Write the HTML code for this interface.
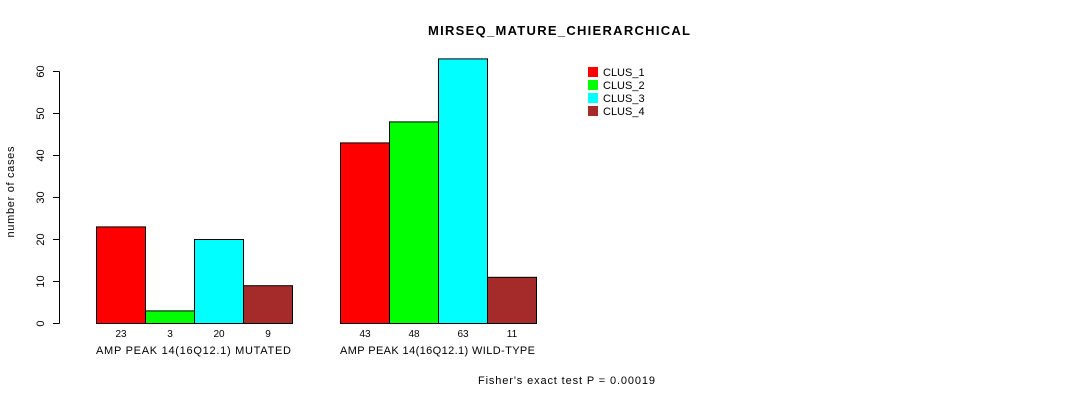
<!DOCTYPE html>
<html><head><meta charset="utf-8"><style>body{margin:0;background:#fff}svg{display:block;font-family:"Liberation Sans",sans-serif}</style></head>
<body>
<svg width="1090" height="400" id="c">
<text x="559" y="35" font-size="13" font-weight="bold" text-anchor="middle" textLength="262" lengthAdjust="spacing">MIRSEQ_MATURE_CHIERARCHICAL</text>
<text transform="translate(14,192) rotate(-90)" font-size="11" text-anchor="middle" textLength="91" lengthAdjust="spacing">number of cases</text>
<text x="566.5" y="384" font-size="11" text-anchor="middle" textLength="177" lengthAdjust="spacing">Fisher's exact test P = 0.00019</text>
<g id="axis"></g>
<g id="bars"></g>
<g id="legend"></g>
</svg>
<script>
const groups=["AMP PEAK 14(16Q12.1) MUTATED","AMP PEAK 14(16Q12.1) WILD-TYPE"];
const clusters=["CLUS_1","CLUS_2","CLUS_3","CLUS_4"];
const colors=["#ff0000","#00ff00","#00ffff","#a52a2a"];
const mutated=[23,3,20,9];
const wildtype=[43,48,63,11];
const yTicks=[0,10,20,30,40,50,60];
const NS="http://www.w3.org/2000/svg";
function y(v){return 323.5-v*(252/60);}
function mk(t,a,p){const e=document.createElementNS(NS,t);for(const k in a)e.setAttribute(k,a[k]);p.appendChild(e);return e;}
const ax=document.getElementById('axis');
mk('line',{x1:59.5,x2:59.5,y1:y(0),y2:y(60),stroke:'#000'},ax);
yTicks.forEach(t=>{const l=mk('line',{x1:53,x2:59.5,y1:y(t),y2:y(t),stroke:'#000'},ax);

const tx=mk('text',{transform:`translate(44,${y(t)}) rotate(-90)`,'font-size':11,'text-anchor':'middle'},ax);tx.textContent=t;
});
const bg=document.getElementById('bars');
const starts=[96.5,340.5],bw=49;
[mutated,wildtype].forEach((vals,g)=>{
vals.forEach((v,i)=>{const x=starts[g]+i*bw;
const r=mk('rect',{x:x,y:y(v),width:bw,height:y(0)-y(v),fill:colors[i],stroke:'#000'},bg);


const t=mk('text',{x:x+bw/2,y:337,'font-size':10,'text-anchor':'middle'},bg);t.textContent=v;
});
const gl=mk('text',{x:starts[g]+2*bw-1,y:354,'font-size':11,'text-anchor':'middle',textLength:195,lengthAdjust:'spacing'},bg);gl.textContent=groups[g];
});
const lg=document.getElementById('legend');
clusters.forEach((c,i)=>{const r=mk('rect',{x:588,y:67+i*13,width:10,height:10,fill:colors[i]},lg);

const t=mk('text',{x:603,y:76+i*13,'font-size':11},lg);t.textContent=c;
});
</script>
</body></html>
